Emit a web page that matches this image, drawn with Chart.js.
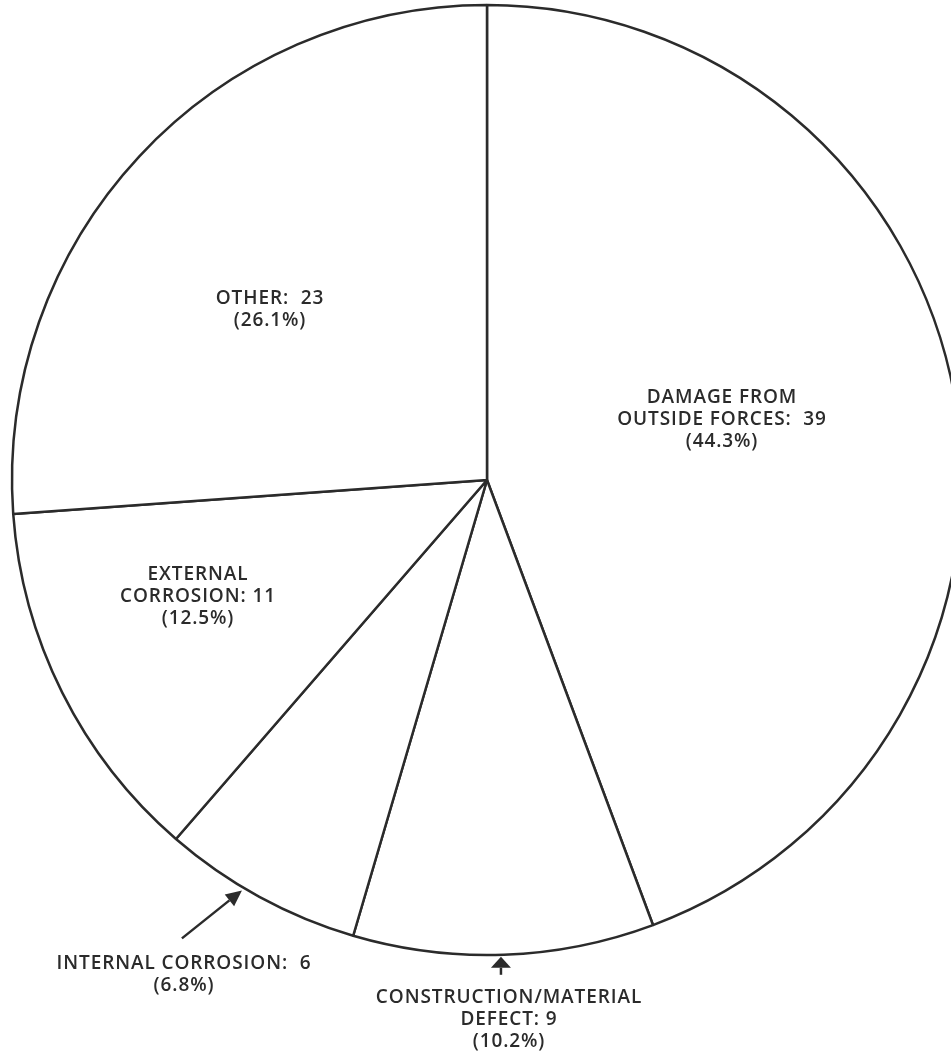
<!DOCTYPE html>
<html>
<head>
<meta charset="utf-8">
<script src="https://cdn.jsdelivr.net/npm/chart.js@4.4.1/dist/chart.umd.min.js"></script>
<style>
  html, body { margin:0; padding:0; background:#fff; overflow:hidden; }
  #wrap { position:absolute; left:0; top:0; width:974px; height:1053px; }
</style>
</head>
<body>
<div id="wrap"><canvas id="pie"></canvas></div>
<script>
// slice order: clockwise from 12 o'clock
const categories = ['DAMAGE FROM OUTSIDE FORCES', 'CONSTRUCTION/MATERIAL DEFECT', 'INTERNAL CORROSION', 'EXTERNAL CORROSION', 'OTHER'];
const counts = [39, 9, 6, 11, 23];
const percents = ['44.3', '10.2', '6.8', '12.5', '26.1'];
const nameLines = [
  ['DAMAGE FROM', 'OUTSIDE FORCES:  '],
  ['CONSTRUCTION/MATERIAL', 'DEFECT: '],
  ['INTERNAL CORROSION:  '],
  ['EXTERNAL', 'CORROSION: '],
  ['OTHER:  ']
];

const INK = '#2b2b2b';
const LINE_H = 22;

// where each label sits, relative to the pie centre (px), and optional arrow
// arrow.t = position along the slice's arc (0..1) where the tip points
const labelLayout = [
  {dx: 235, dy: -77},
  {dx: 22, dy: 523, arrow: {t: 0.51, gap: 2, tx: 0, ty: 18, w: 20, head: 11}},
  {dx: -303, dy: 489, arrow: {t: 0.59, gap: 3, tx: -60, ty: 48, w: 15, head: 16}},
  {dx: -289, dy: 100},
  {dx: -217, dy: -176}
];

function labelText(i){
  const lines = nameLines[i].slice();
  lines[lines.length-1] += counts[i];
  lines.push('(' + percents[i] + '%)');
  return lines;
}

const labelPlugin = {
  id: 'sliceLabels',
  afterDatasetsDraw(chart){
    const ctx = chart.ctx;
    const arcs = chart.getDatasetMeta(0).data;
    ctx.save();
    ctx.fillStyle = INK;
    ctx.strokeStyle = INK;
    ctx.font = '600 19px "Open Sans"';
    ctx.letterSpacing = '0.9px';
    ctx.textAlign = 'center';
    ctx.textBaseline = 'alphabetic';
    arcs.forEach((arc, i)=>{
      const p = arc.getProps(['x','y','startAngle','endAngle','outerRadius'], true);
      const lay = labelLayout[i];
      const tx = p.x + lay.dx, ty = p.y + lay.dy;
      labelText(i).forEach((l, k)=> ctx.fillText(l, tx, ty + k*LINE_H));
      if (lay.arrow){
        const a = lay.arrow;
        const ang0 = p.startAngle + (p.endAngle - p.startAngle)*a.t;
        const tipX = p.x + Math.cos(ang0)*(p.outerRadius + a.gap);
        const tipY = p.y + Math.sin(ang0)*(p.outerRadius + a.gap);
        const tailX = tipX + a.tx, tailY = tipY + a.ty;
        const ang = Math.atan2(tipY - tailY, tipX - tailX);
        const bx = tipX - Math.cos(ang)*a.head, by = tipY - Math.sin(ang)*a.head;
        ctx.lineWidth = 2.5;
        ctx.beginPath();
        ctx.moveTo(tailX, tailY);
        ctx.lineTo(bx, by);
        ctx.stroke();
        ctx.beginPath();
        ctx.moveTo(tipX, tipY);
        ctx.lineTo(bx - Math.sin(ang)*a.w/2, by + Math.cos(ang)*a.w/2);
        ctx.lineTo(bx + Math.sin(ang)*a.w/2, by - Math.cos(ang)*a.w/2);
        ctx.closePath();
        ctx.fill();
      }
    });
    ctx.restore();
  }
};

new Chart(document.getElementById('pie'), {
  type: 'pie',
  data: {
    labels: categories,
    datasets: [{
      data: counts,
      backgroundColor: '#fff',
      borderColor: INK,
      borderWidth: 2.5,
      radius: 475
    }]
  },
  options: {
    responsive: true,
    maintainAspectRatio: false,
    animation: false,
    layout: {padding: {left: 0, right: 0, top: 0, bottom: 93}},
    plugins: {legend: {display: false}, tooltip: {enabled: false}}
  },
  plugins: [labelPlugin]
});
</script>
</body>
</html>
